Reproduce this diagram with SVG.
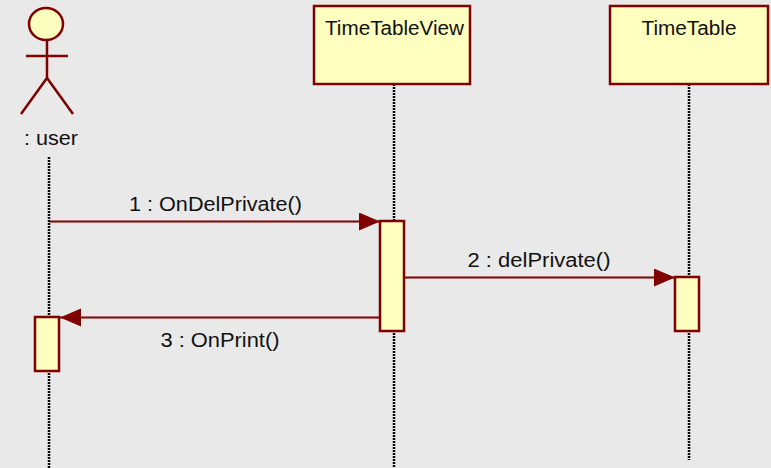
<svg xmlns="http://www.w3.org/2000/svg" width="771" height="468" viewBox="0 0 771 468">
<defs>
<marker id="ah" markerUnits="userSpaceOnUse" markerWidth="22" markerHeight="20" refX="21" refY="9" orient="auto"><path d="M0 0L21 9L0 18Z" fill="#800000"/></marker>
</defs>
<style>
.n{fill:#ffffbf;stroke:#800000;stroke-width:2.500}
.s{fill:none;stroke:#800000;stroke-width:2.500}
.l{fill:none;stroke:#000;stroke-width:2.500;stroke-dasharray:2 1}
.m{fill:none;stroke:#800000;stroke-width:2.200;marker-end:url(#ah)}
text{font-family:"Liberation Sans","Noto Sans",sans-serif;font-size:20px;fill:#111}
</style>
<rect width="771" height="468" fill="#e9e9e9"/>
<g id="connectors">
<path class="l" d="M49 157V468"/>
<path class="l" d="M394 84V468"/>
<path class="l" d="M689 84V460"/>
<path class="m" d="M49 221.500H380"/>
<path class="m" d="M404 277.500H675"/>
<path class="m" d="M380 317.500H60"/>
<text x="215.500" y="211" text-anchor="middle" textLength="173" lengthAdjust="spacingAndGlyphs">1 : OnDelPrivate()</text>
<text x="539" y="267" text-anchor="middle" textLength="143" lengthAdjust="spacingAndGlyphs">2 : delPrivate()</text>
<text x="220" y="347" text-anchor="middle" textLength="119" lengthAdjust="spacingAndGlyphs">3 : OnPrint()</text>
</g>
<g id="user">
<ellipse class="n" cx="46" cy="24" rx="17" ry="16"/>
<path class="s" d="M47 40V78M26 56H68M21 114L47 78L73 114"/>
<text x="51" y="145" text-anchor="middle" textLength="54" lengthAdjust="spacingAndGlyphs">: user</text>
</g>
<g id="TimeTableView">
<rect class="n" x="314" y="6" width="156" height="78"/>
<text x="394.500" y="35" text-anchor="middle" textLength="139" lengthAdjust="spacingAndGlyphs">TimeTableView</text>
</g>
<g id="TimeTable">
<rect class="n" x="610" y="6" width="158" height="78"/>
<text x="689" y="35" text-anchor="middle" textLength="95" lengthAdjust="spacingAndGlyphs">TimeTable</text>
</g>
<g id="activation-user"><rect class="n" x="35" y="317" width="24" height="54"/></g>
<g id="activation-view"><rect class="n" x="380" y="221" width="24" height="110"/></g>
<g id="activation-table"><rect class="n" x="675" y="277" width="24" height="54"/></g>
</svg>
